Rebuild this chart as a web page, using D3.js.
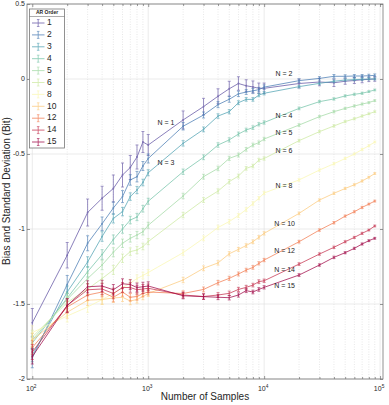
<!DOCTYPE html>
<html>
<head>
<meta charset="utf-8">
<script src="https://cdn.jsdelivr.net/npm/d3@7"></script>
<style>
body { margin: 0; background: #fff; }
text { font-family: "Liberation Sans", Arial, sans-serif; fill: #262626; }
</style>
</head>
<body>
<svg width="389" height="405"></svg>
<script>
// number of samples (x values)
let samples = [100, 200, 300, 400, 500, 600, 700, 800, 900,
    1000, 2000, 3000, 4000, 5000, 6000, 7000, 8000, 9000,
    10000, 20000, 30000, 40000, 50000, 60000, 70000, 80000, 90000];

let orders = [1, 2, 3, 4, 5, 6, 8, 10, 12, 14, 15];

let bias1 = [-1.625,-1.175,-0.89,-0.795,-0.73,-0.64,-0.59,-0.52,-0.42,-0.44,-0.273,-0.184,-0.115,-0.065,-0.03,-0.045,-0.053,-0.062,-0.062,-0.03,-0.02,-0.025,-0.015,-0.01,-0.005,-0.002,0.0];
let bias2 = [-1.86,-1.37,-1.095,-0.965,-0.86,-0.784,-0.673,-0.651,-0.58,-0.53,-0.315,-0.24,-0.171,-0.135,-0.099,-0.087,-0.079,-0.071,-0.054,-0.011,0.004,0.018,0.018,0.02,0.02,0.022,0.024];
let bias3 = [-1.84,-1.42,-1.22,-1.05,-0.93,-0.884,-0.784,-0.74,-0.69,-0.625,-0.429,-0.336,-0.247,-0.218,-0.158,-0.136,-0.136,-0.107,-0.095,-0.051,-0.029,-0.015,-0.007,-0.004,-0.002,0.0,0.0];
let bias4 = [-1.76,-1.46,-1.285,-1.17,-1.07,-1.0,-0.94,-0.92,-0.865,-0.815,-0.618,-0.522,-0.44,-0.406,-0.367,-0.34,-0.324,-0.302,-0.29,-0.196,-0.151,-0.133,-0.113,-0.102,-0.095,-0.084,-0.073];
let bias5 = [-1.74,-1.47,-1.33,-1.24,-1.155,-1.095,-1.062,-1.04,-1.018,-0.975,-0.78,-0.651,-0.596,-0.529,-0.507,-0.469,-0.44,-0.424,-0.40,-0.307,-0.251,-0.218,-0.196,-0.18,-0.167,-0.157,-0.144];
let bias6 = [-1.72,-1.49,-1.40,-1.33,-1.273,-1.195,-1.151,-1.14,-1.117,-1.084,-0.907,-0.807,-0.747,-0.684,-0.647,-0.596,-0.58,-0.54,-0.53,-0.411,-0.351,-0.313,-0.284,-0.265,-0.247,-0.232,-0.218];
let bias8 = [-1.69,-1.58,-1.52,-1.47,-1.43,-1.39,-1.36,-1.33,-1.31,-1.29,-1.158,-1.062,-0.99,-0.95,-0.91,-0.87,-0.83,-0.795,-0.76,-0.673,-0.607,-0.565,-0.53,-0.5,-0.47,-0.445,-0.42];
let bias10 = [-1.74,-1.555,-1.475,-1.47,-1.46,-1.455,-1.48,-1.47,-1.45,-1.43,-1.34,-1.262,-1.226,-1.165,-1.136,-1.11,-1.085,-1.055,-1.029,-0.896,-0.807,-0.762,-0.73,-0.705,-0.68,-0.655,-0.63];
let bias12 = [-1.79,-1.52,-1.44,-1.42,-1.455,-1.42,-1.455,-1.45,-1.43,-1.42,-1.43,-1.403,-1.358,-1.329,-1.30,-1.274,-1.256,-1.229,-1.207,-1.085,-1.007,-0.958,-0.914,-0.885,-0.856,-0.834,-0.814];
let bias14 = [-1.82,-1.51,-1.405,-1.40,-1.43,-1.39,-1.39,-1.405,-1.40,-1.395,-1.44,-1.45,-1.44,-1.429,-1.403,-1.389,-1.374,-1.351,-1.345,-1.234,-1.167,-1.122,-1.085,-1.056,-1.029,-1.007,-0.98];
let bias15 = [-1.85,-1.51,-1.385,-1.38,-1.405,-1.365,-1.37,-1.39,-1.385,-1.38,-1.445,-1.451,-1.455,-1.458,-1.44,-1.411,-1.42,-1.403,-1.389,-1.307,-1.24,-1.189,-1.158,-1.129,-1.10,-1.078,-1.062];

// standard deviations (half height of the error bars)
let errN1 = [0.095,0.085,0.09,0.08,0.09,0.08,0.08,0.08,0.07,0.07,0.06,0.055,0.05,0.05,0.045,0.04,0.04,0.035,0.035,0.03,0.025,0.025,0.02,0.02,0.02,0.015,0.015];
let errN2 = [0.065,0.06,0.05,0.045,0.04,0.04,0.035,0.035,0.03,0.03,0.025,0.02,0.02,0.02,0.018,0.016,0.016,0.015,0.015,0.012,0.012,0.012,0.01,0.01,0.01,0.01,0.01];
let errLow = [0.045,0.04,0.035,0.032,0.03,0.028,0.025,0.024,0.022,0.02,0.018,0.016,0.015,0.014,0.013,0.012,0.012,0.011,0.011,0.009,0.008,0.008,0.007,0.007,0.007,0.006,0.006];
let errRed = [0.05,0.045,0.04,0.038,0.035,0.033,0.032,0.03,0.03,0.028,0.02,0.018,0.016,0.015,0.014,0.013,0.012,0.012,0.011,0.009,0.008,0.008,0.007,0.007,0.007,0.006,0.006];

let biasByOrder = [bias1, bias2, bias3, bias4, bias5, bias6, bias8, bias10, bias12, bias14, bias15];
let errByOrder = [errN1, errN2, errLow, errLow, errLow, errLow, errLow, errLow, errLow, errRed, errRed];

// in-plot "N = k" labels, anchored in data units
let labelText = ["N = 1", "N = 3", "N = 2", "N = 4", "N = 5", "N = 6", "N = 8", "N = 10", "N = 12", "N = 14", "N = 15"];
let labelSamples = [1200, 1200, 12500, 12500, 12500, 12500, 12500, 12200, 12200, 12200, 12200];
let labelBias = [-0.295, -0.563, 0.03, -0.25, -0.362, -0.48, -0.713, -0.967, -1.151, -1.273, -1.38];

let yTicks = [-2, -1.5, -1, -0.5, 0, 0.5];
let xDecades = [100, 1000, 10000, 100000];

let svg = d3.select("svg"),
    pLeft = 27, pRight = 383, pTop = 4, pBottom = 379;

let x = d3.scaleLog().domain([90, 106000]).range([pLeft, pRight]);
let y = d3.scaleLinear().domain([-2, 0.5]).range([pBottom, pTop]);
let color = n => d3.interpolateSpectral(1 - (n - 1) / 14);

let minors = [];
[100, 1000, 10000].forEach(d => {
    for (let k = 2; k <= 9; k++) minors.push(d * k);
});

// grid
let grid = svg.append("g");
grid.selectAll(".minor").data(minors).enter().append("line")
    .attr("x1", d => x(d)).attr("x2", d => x(d))
    .attr("y1", pTop).attr("y2", pBottom)
    .attr("stroke", "#d6d6d6").attr("stroke-width", 0.6)
    .attr("stroke-dasharray", "1,1.5");
grid.selectAll(".major").data(xDecades).enter().append("line")
    .attr("x1", d => x(d)).attr("x2", d => x(d))
    .attr("y1", pTop).attr("y2", pBottom)
    .attr("stroke", "#e3e3e3").attr("stroke-width", 0.7);
grid.selectAll(".hy").data(yTicks).enter().append("line")
    .attr("x1", pLeft).attr("x2", pRight)
    .attr("y1", d => y(d)).attr("y2", d => y(d))
    .attr("stroke", "#e3e3e3").attr("stroke-width", 0.7);

// axes: ticks inside, on all four sides
function tickAxis(axis, vals, size, tr){
    svg.append("g")
        .attr("transform", tr)
        .call(axis.tickValues(vals).tickSize(-size).tickFormat(""))
        .call(g => g.select(".domain").remove())
        .call(g => g.selectAll("line").attr("stroke", "#555").attr("stroke-width", 0.6));
}
tickAxis(d3.axisBottom(x), xDecades, 3, `translate(0,${pBottom})`);
tickAxis(d3.axisBottom(x), minors, 2, `translate(0,${pBottom})`);
tickAxis(d3.axisTop(x), xDecades, 3, `translate(0,${pTop})`);
tickAxis(d3.axisTop(x), minors, 2, `translate(0,${pTop})`);
tickAxis(d3.axisLeft(y), yTicks, 3, `translate(${pLeft},0)`);
tickAxis(d3.axisRight(y), yTicks, 3, `translate(${pRight},0)`);

svg.append("rect")
    .attr("x", pLeft).attr("y", pTop)
    .attr("width", pRight - pLeft).attr("height", pBottom - pTop)
    .attr("fill", "none").attr("stroke", "#777").attr("stroke-width", 0.8);

// tick labels
svg.append("g").selectAll("text").data(yTicks).enter().append("text")
    .attr("x", pLeft - 2).attr("y", d => y(d))
    .attr("text-anchor", "end").attr("dominant-baseline", "middle")
    .attr("font-size", 7)
    .text(d => d);

let xl = svg.append("g").selectAll("text").data(xDecades).enter().append("text")
    .attr("x", d => x(d) - 1).attr("y", 390.5)
    .attr("text-anchor", "middle")
    .attr("font-size", 7);
xl.append("tspan").text("10");
xl.append("tspan").attr("dy", -3).attr("font-size", 4.8).text(d => Math.round(Math.log10(d)));

// axis titles
svg.append("text")
    .attr("x", (pLeft + pRight) / 2).attr("y", 400)
    .attr("text-anchor", "middle").attr("font-size", 10)
    .text("Number of Samples");
svg.append("text")
    .attr("transform", "translate(10,191) rotate(-90)")
    .attr("text-anchor", "middle").attr("font-size", 10)
    .text("Bias and Standard Deviation (Bit)");

// series
let series = orders.map((o, i) => ({
    order: o,
    points: samples.map((s, j) => ({n: s, v: biasByOrder[i][j], e: errByOrder[i][j]}))
}));

let line = d3.line().x(d => x(d.n)).y(d => y(d.v));

let sg = svg.append("g").selectAll("g").data(series).enter().append("g")
    .attr("stroke", d => color(d.order))
    .attr("fill", d => color(d.order))
    .attr("opacity", 0.8);

sg.append("path")
    .attr("d", d => line(d.points))
    .attr("fill", "none")
    .attr("stroke-width", 0.9);

let eb = sg.selectAll(".eb").data(d => d.points).enter().append("g");
eb.append("line")
    .attr("x1", d => x(d.n)).attr("x2", d => x(d.n))
    .attr("y1", d => y(d.v - d.e)).attr("y2", d => y(d.v + d.e))
    .attr("stroke-width", 0.8);
eb.append("line")
    .attr("x1", d => x(d.n) - 1.5).attr("x2", d => x(d.n) + 1.5)
    .attr("y1", d => y(d.v - d.e)).attr("y2", d => y(d.v - d.e))
    .attr("stroke-width", 0.7);
eb.append("line")
    .attr("x1", d => x(d.n) - 1.5).attr("x2", d => x(d.n) + 1.5)
    .attr("y1", d => y(d.v + d.e)).attr("y2", d => y(d.v + d.e))
    .attr("stroke-width", 0.7);
eb.append("circle")
    .attr("cx", d => x(d.n)).attr("cy", d => y(d.v))
    .attr("r", 0.9).attr("stroke", "none");

// N = k annotations
svg.append("g").selectAll("text").data(labelText).enter().append("text")
    .attr("x", (d, i) => x(labelSamples[i]))
    .attr("y", (d, i) => y(labelBias[i]))
    .attr("dominant-baseline", "middle")
    .attr("font-size", 7)
    .text(d => d);

// legend
let lg = svg.append("g");
lg.append("rect")
    .attr("x", 29.5).attr("y", 9).attr("width", 35).attr("height", 139)
    .attr("fill", "#fff").attr("stroke", "#777").attr("stroke-width", 0.8);
lg.append("line")
    .attr("x1", 29.5).attr("x2", 64.5).attr("y1", 16.5).attr("y2", 16.5)
    .attr("stroke", "#777").attr("stroke-width", 0.6);
lg.append("text")
    .attr("x", 47).attr("y", 13).attr("text-anchor", "middle")
    .attr("dominant-baseline", "middle")
    .attr("font-size", 5).attr("font-weight", "bold")
    .text("AR Order");

let item = lg.selectAll(".item").data(orders).enter().append("g")
    .attr("transform", (d, i) => `translate(0,${23 + i * 11.9})`);
item.append("g")
    .attr("stroke", d => color(d)).attr("opacity", 0.8)
    .call(g => {
        g.append("line").attr("x1", 32).attr("x2", 44.5).attr("y1", 0).attr("y2", 0).attr("stroke-width", 0.9);
        g.append("line").attr("x1", 38.2).attr("x2", 38.2).attr("y1", -3.5).attr("y2", 3.5).attr("stroke-width", 0.8);
        g.append("line").attr("x1", 36.9).attr("x2", 39.5).attr("y1", -3.5).attr("y2", -3.5).attr("stroke-width", 0.7);
        g.append("line").attr("x1", 36.9).attr("x2", 39.5).attr("y1", 3.5).attr("y2", 3.5).attr("stroke-width", 0.7);
    });
item.append("text")
    .attr("x", 47).attr("y", 0)
    .attr("dominant-baseline", "middle")
    .attr("font-size", 8.5)
    .text(d => d);
</script>
</body>
</html>
